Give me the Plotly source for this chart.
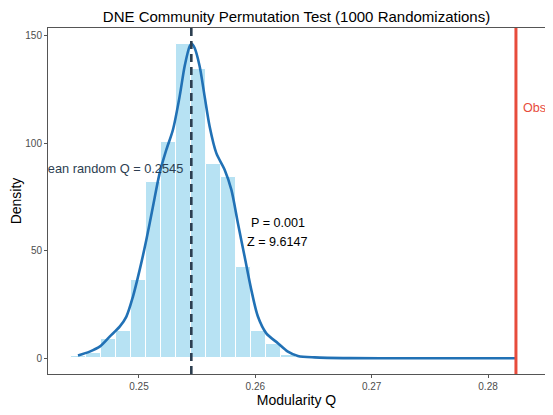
import plotly.graph_objects as go

# ---- data ----
bin_centers = [0.244767, 0.246062, 0.247356, 0.248651, 0.249945, 0.251240, 0.252534,
               0.253828, 0.255123, 0.256417, 0.257712, 0.259006, 0.260300, 0.261595, 0.262889]
bin_density = [1.0, 2.6, 8.9, 12.7, 36.5, 81.9, 100.6, 146.2, 134.7, 90.5, 84.5, 42.6, 12.7, 6.5, 1.5]
bin_width = 0.0012944

kde_x = [0.244760, 0.245765, 0.246624, 0.247483, 0.248342, 0.248918, 0.249485, 0.250060,
         0.250636, 0.251203, 0.251778, 0.252354, 0.252921, 0.253497, 0.253926, 0.254356,
         0.254527, 0.254785, 0.255215, 0.255644, 0.256074, 0.256649, 0.257363, 0.257938,
         0.258505, 0.259081, 0.259656, 0.260223, 0.260945, 0.261942, 0.262801, 0.263660,
         0.265095, 0.268101, 0.272400, 0.282360]
kde_y = [1.3, 3.1, 5.4, 10.1, 14.7, 19.4, 28.7, 41.1, 55.1, 70.6, 86.1, 97.0, 106.3, 121.8,
         135.8, 145.1, 146.3, 144.3, 135.8, 121.8, 107.8, 95.4, 87.7, 78.4, 62.8, 47.3, 31.8,
         19.4, 11.6, 7.0, 3.1, 1.1, 0.4, 0.05, 0.0, 0.0]

mean_q = 0.2545
observed_q = 0.2824
p_value = "0.001"
z_score = "9.6147"

x_ticks = [0.25, 0.26, 0.27, 0.28]
x_tick_labels = ["0.25", "0.26", "0.27", "0.28"]
y_ticks = [0, 50, 100, 150]
y_tick_labels = ["0", "50", "100", "150"]

FONT = "Liberation Sans, Arial, Helvetica, sans-serif"
DARK = "#2c3e50"
RED = "#e74c3c"
X_RANGE = [0.242182, 0.284897]
X_PER_PX = (X_RANGE[1] - X_RANGE[0]) / 497.5  # data units per pixel of plot width

# page body has an 8px margin, so the figure is sized/placed to compensate
FIG_W, FIG_H = 545, 407

fig = go.Figure()

fig.add_trace(go.Bar(
    x=bin_centers, y=bin_density, width=[bin_width] * len(bin_centers),
    marker=dict(color="rgba(135,206,235,0.6)", line=dict(color="white", width=1)),
    showlegend=False, hoverinfo="skip"))

fig.add_trace(go.Scatter(
    x=kde_x, y=kde_y, mode="lines",
    line=dict(color="#2171b5", width=2.6, shape="spline", smoothing=0.8),
    showlegend=False, hoverinfo="skip"))

# clipped labels (like ggplot clip="on")
fig.add_trace(go.Scatter(
    x=[mean_q - 8 * X_PER_PX], y=[87.5], mode="text",
    text=[f"Mean random Q = {mean_q:.4f}"], textposition="middle left",
    textfont=dict(family=FONT, size=12.8, color=DARK),
    cliponaxis=True, showlegend=False, hoverinfo="skip"))
fig.add_trace(go.Scatter(
    x=[observed_q + 7 * X_PER_PX], y=[116], mode="text",
    text=[f"Observed Q = {observed_q:.4f}"], textposition="middle right",
    textfont=dict(family=FONT, size=12.6, color=RED),
    cliponaxis=True, showlegend=False, hoverinfo="skip"))

fig.add_vline(x=mean_q, line=dict(color=DARK, width=2.6, dash="8px,5px"), layer="above")
fig.add_vline(x=observed_q, line=dict(color=RED, width=3), layer="above")

fig.add_annotation(x=0.26192, y=62.85, text=f"P = {p_value}", showarrow=False,
                   xanchor="center", yanchor="middle",
                   font=dict(family=FONT, size=12.6, color="black"))
fig.add_annotation(x=0.26192, y=54.0, text=f"Z = {z_score}", showarrow=False,
                   xanchor="center", yanchor="middle",
                   font=dict(family=FONT, size=12.6, color="black"))

axis_common = dict(showgrid=False, zeroline=False, showline=True, mirror=True,
                   linecolor="#555555", linewidth=1, ticks="outside", ticklen=3,
                   tickcolor="#555555", automargin=False,
                   tickfont=dict(family=FONT, size=10, color="#4d4d4d"))

fig.update_layout(
    width=FIG_W, height=FIG_H,
    margin=dict(l=40, r=7.5, t=20, b=41, pad=0),
    paper_bgcolor="white", plot_bgcolor="white",
    bargap=0,
    title=dict(text="DNE Community Permutation Test (1000 Randomizations)",
               x=0.5, xref="paper", xanchor="center", y=1 - 8.5 / FIG_H, yanchor="middle",
               font=dict(family=FONT, size=15, color="black")),
    xaxis=dict(range=X_RANGE, tickvals=x_ticks, ticktext=x_tick_labels,
               title=dict(text="Modularity Q", standoff=2,
                          font=dict(family=FONT, size=14, color="black")),
               **axis_common),
    yaxis=dict(range=[-7.31, 153.6], tickvals=y_ticks, ticktext=y_tick_labels,
               title=dict(text="Density", standoff=1,
                          font=dict(family=FONT, size=14, color="black")),
               **axis_common),
)

fig.write_html("out.html")
